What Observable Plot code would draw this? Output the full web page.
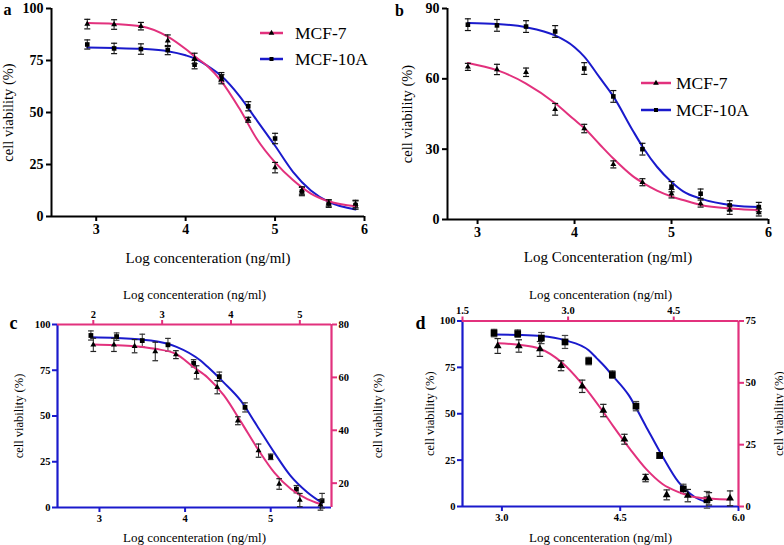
<!DOCTYPE html>
<html><head><meta charset="utf-8">
<script src="https://cdn.jsdelivr.net/npm/d3@7"></script>
<script src="https://cdn.jsdelivr.net/npm/@observablehq/plot@0.6"></script>
<style>
body{margin:0;background:#fff;}
#root{position:relative;width:784px;height:545px;overflow:hidden;font-family:"Liberation Serif",serif;background:#fff;}
.panel{position:absolute;}
.panel svg{position:absolute;left:0;top:0;overflow:visible;font-family:"Liberation Serif",serif !important;}
.panel svg text{font-family:"Liberation Serif",serif;}
</style></head><body><div id="root"></div>
<script>
// ---------- data ----------
const aConc = [2.9,3.2,3.5,3.8,4.1,4.4,4.7,5.0,5.3,5.6,5.9];
const aMCF7 = [92.5,92.3,91.5,84.5,76.0,66.0,46.5,23.5,12.5,6.5,6.0];
const aMCF7Err = [2.3,2.3,1.8,2.8,2.5,2.2,1.2,2.5,1.8,1.5,1.8];
const aMCF10A = [82.7,80.8,80.5,80.0,73.0,67.0,53.0,37.5,12.0,6.2,5.5];
const aMCF10AErr = [2.2,2.5,2.5,2.2,2.0,2.2,2.2,2.5,2.0,1.8,2.0];
const aFitConc = [2.9,3.2,3.5,3.8,4.0,4.1,4.24,4.4,4.6,4.8,5.0,5.2,5.4,5.6,5.9];
const aMCF7Fit = [93.0,92.6,91.5,86.5,80.5,77.0,72.5,65.0,52.0,37.0,26.0,17.5,11.0,7.3,4.9];
const aMCF10AFit = [81.2,81.0,80.6,79.5,77.5,76.0,72.5,67.5,58.0,46.0,34.0,21.5,12.5,7.0,3.4];
const aXTicks = [3,4,5,6];
const aYTicks = [0,25,50,75,100];

const bConc = [2.9,3.2,3.5,3.8,4.1,4.4,4.7,5.0,5.3,5.6,5.9];
const bMCF7 = [65.1,64.0,62.8,47.0,38.8,23.5,15.9,11.0,6.8,4.0,3.0];
const bMCF7Err = [1.5,2.2,1.8,2.5,1.8,1.5,1.5,1.8,1.5,1.8,1.5];
const bMCF10A = [83.1,82.8,82.3,80.2,64.4,52.5,30.0,14.0,11.0,6.0,5.3];
const bMCF10AErr = [2.5,2.5,2.5,2.5,2.5,2.5,2.5,2.2,2.0,2.0,2.0];
const bFitConc = [2.9,3.2,3.5,3.8,4.0,4.1,4.26,4.4,4.6,4.71,4.85,5.0,5.12,5.3,5.64,5.9];
const bMCF7Fit = [66.8,63.7,58.0,49.6,42.5,39.0,32.0,26.0,18.5,15.5,12.3,9.8,8.3,6.2,4.6,4.0];
const bMCF10AFit = [83.8,83.4,82.0,78.5,73.5,69.5,60.5,52.5,38.0,30.5,22.5,16.0,12.0,8.9,6.0,5.3];
const bXTicks = [3,4,5,6];
const bYTicks = [0,30,60,90];

const cConc10A = [2.9,3.2,3.5,3.8,4.1,4.4,4.7,5.0,5.3,5.6];
const cMCF10A = [94.0,93.4,91.2,88.9,78.8,71.5,54.7,27.7,10.0,3.7];
const cMCF10AErr = [2.5,2.0,3.5,3.5,2.0,2.5,2.5,1.5,2.0,4.0];
const cConc7 = [2.0,2.3,2.6,2.9,3.2,3.5,3.8,4.1,4.4,4.7,5.0,5.3];
const cMCF7 = [72.3,72.3,71.8,69.8,68.6,61.9,56.3,43.6,32.3,19.7,13.6,11.8];
const cMCF7Err = [2.5,2.5,2.5,3.5,1.5,2.5,2.5,1.5,2.5,2.0,2.5,2.0];
const cFit10AConc = [2.9,3.2,3.6,3.9,4.18,4.26,4.45,4.65,4.84,5.04,5.23,5.43,5.6];
const cMCF10AFit = [93.0,92.6,91.2,87.8,80.3,77.0,68.4,58.4,44.7,30.1,17.4,8.2,2.5];
const cFit7Conc = [2.0,2.3,2.6,2.9,3.2,3.45,3.66,3.9,4.15,4.39,4.63,4.87,5.11,5.3];
const cMCF7Fit = [72.4,72.2,71.8,70.8,68.9,64.0,60.0,53.1,43.0,32.9,24.0,17.8,14.0,12.1];
const cBottomTicks = [3,4,5];
const cLeftTicks = [0,25,50,75,100];
const cTopTicks = [2,3,4,5];
const cRightTicks = [20,40,60,80];

const dConc10A = [2.9,3.2,3.5,3.8,4.1,4.4,4.7,5.0,5.3,5.6];
const dMCF10A = [93.5,93.2,90.8,88.7,78.4,71.1,54.1,27.5,9.5,3.6];
const dMCF10AErr = [2.0,2.0,3.0,3.5,2.0,2.0,2.5,1.5,2.5,4.5];
const dConc7 = [2.0,2.3,2.6,2.9,3.2,3.5,3.8,4.1,4.4,4.7,5.0,5.3];
const dMCF7 = [64.9,64.9,63.7,56.9,48.6,38.8,27.2,11.5,4.7,4.4,3.1,3.3];
const dMCF7Err = [3.0,2.5,3.0,2.0,2.5,2.5,2.0,1.5,2.0,2.5,2.5,3.0];
const dFit10AConc = [2.9,3.2,3.5,3.8,4.1,4.2,4.31,4.4,4.61,4.82,5.03,5.24,5.45,5.6];
const dMCF10AFit = [92.7,92.5,91.9,89.6,84.2,80.0,75.2,70.7,59.9,43.7,27.5,13.1,5.0,2.3];
const dFit7Conc = [2.0,2.3,2.6,2.9,3.2,3.49,3.64,3.88,4.11,4.34,4.58,4.81,5.05,5.3];
const dMCF7Fit = [66.0,65.4,63.8,58.5,49.5,38.6,32.5,23.2,15.1,9.1,5.7,3.7,3.1,2.8];
const dBottomTicks = [3.0,4.5,6.0];
const dLeftTicks = [0,25,50,75,100];
const dTopTicks = [1.5,3.0,4.5];
const dRightTicks = [0,25,50,75];

const series = ["MCF-7","MCF-10A"];
const xTitle = "Log concenteration (ng/ml)";
const xTitleB = "Log Concenteration (ng/ml)";
const yTitle = "cell viability (%)";

// ---------- style ----------
const PINK = "#e2317d", BLUE = "#1a1acc", FONT = "Liberation Serif";
const cap = {draw(ctx, size){ const w = Math.sqrt(size)/2; ctx.moveTo(-w,0); ctx.lineTo(w,0); }};
const root = document.getElementById("root");

function panel(left, top, w, h){
  const d = document.createElement("div");
  d.className = "panel";
  Object.assign(d.style, {left:left+"px", top:top+"px", width:w+"px", height:h+"px"});
  root.appendChild(d);
  return d;
}

function seriesMarks({xs, ys, es, symbol, r, fx, fy, color, errColor="#111", capR=3.4}){
  const idx = d3.range(xs.length), fidx = d3.range(fx.length);
  return [
    Plot.line(fidx, {x:i=>fx[i], y:i=>fy[i], curve:"monotone-x", stroke:color, strokeWidth:2}),
    Plot.ruleX(idx, {x:i=>xs[i], y1:i=>ys[i]-es[i], y2:i=>ys[i]+es[i], stroke:errColor, strokeWidth:1}),
    Plot.dot(idx, {x:i=>xs[i], y:i=>ys[i]+es[i], symbol:cap, r:capR, stroke:errColor, fill:"none", strokeWidth:1.2}),
    Plot.dot(idx, {x:i=>xs[i], y:i=>ys[i]-es[i], symbol:cap, r:capR, stroke:errColor, fill:"none", strokeWidth:1.2}),
    Plot.dot(idx, {x:i=>xs[i], y:i=>ys[i], symbol, r, fill:"black", stroke:"none"})
  ];
}

const baseStyle = {fontFamily:"'Liberation Serif', serif", background:"transparent", overflow:"visible", color:"black"};
const T = {fontFamily:FONT, textAnchor:"middle", lineAnchor:"middle", text:d=>d};

function legend(parent, x1, x2, tx, ys){
  const svg = d3.select(parent).append("svg").attr("width",392).attr("height",268);
  const items = [{label:series[0], color:PINK, sym:d3.symbolTriangle, size:14},
                 {label:series[1], color:BLUE, sym:d3.symbolSquare, size:16}];
  items.forEach((it,k)=>{
    const y = ys[k];
    svg.append("line").attr("x1",x1).attr("x2",x2).attr("y1",y).attr("y2",y)
      .attr("stroke",it.color).attr("stroke-width",2.5);
    svg.append("path").attr("d", d3.symbol(it.sym, it.size)())
      .attr("transform",`translate(${(x1+x2)/2},${y})`).attr("fill","black");
    svg.append("text").attr("x",tx).attr("y",y).attr("dy","0.35em")
      .attr("font-family",FONT).attr("font-size",17.5).text(it.label);
  });
}

function simplePanel({el, xDomain, yDomain, xTicks, yTicks, margins, xT, letter, data7, data10, xTitleDy, yTitleDx, letterDx, letterDy}){
  const ax = {tickSize:5, tickPadding:3, fontSize:14, fontWeight:"bold", fontFamily:FONT, strokeWidth:2, label:null, tickFormat:d3.format("d")};
  const p = Plot.plot({
    width:392, height:268, ...margins,
    style:baseStyle,
    x:{domain:xDomain}, y:{domain:yDomain},
    marks:[
      Plot.axisX({ticks:xTicks, ...ax}),
      Plot.axisY({ticks:yTicks, ...ax}),
      Plot.ruleX([xDomain[0]], {strokeWidth:2}),
      Plot.ruleY([yDomain[0]], {strokeWidth:2}),
      ...seriesMarks(data10),
      ...seriesMarks(data7),
      Plot.text([xT], {...T, frameAnchor:"bottom", dy:xTitleDy, fontSize:15}),
      Plot.text([yTitle], {...T, frameAnchor:"left", dx:yTitleDx, rotate:-90, fontSize:14.5}),
      Plot.text([letter], {...T, frameAnchor:"top-left", dx:letterDx, dy:letterDy, fontSize:16, fontWeight:"bold"})
    ]
  });
  el.appendChild(p);
}

// ---------- panel a ----------
const pa = panel(0, 0, 392, 268);
simplePanel({el:pa, xDomain:[2.5,6], yDomain:[0,100], xTicks:aXTicks, yTicks:aYTicks,
  margins:{marginLeft:51, marginRight:28, marginTop:8, marginBottom:52}, xT:xTitle, letter:"a",
  data7:{xs:aConc, ys:aMCF7, es:aMCF7Err, symbol:"triangle", r:2.2, fx:aFitConc, fy:aMCF7Fit, color:PINK},
  data10:{xs:aConc, ys:aMCF10A, es:aMCF10AErr, symbol:"square", r:2.6, fx:aFitConc, fy:aMCF10AFit, color:BLUE},
  xTitleDy:42, yTitleDx:-43, letterDx:-44, letterDy:1.5});
legend(pa, 260, 283, 295, [33, 59]);

// ---------- panel b ----------
const pb = panel(392, 0, 392, 268);
simplePanel({el:pb, xDomain:[2.69,6], yDomain:[0,90], xTicks:bXTicks, yTicks:bYTicks,
  margins:{marginLeft:55, marginRight:16, marginTop:8, marginBottom:49}, xT:xTitleB, letter:"b",
  data7:{xs:bConc, ys:bMCF7, es:bMCF7Err, symbol:"triangle", r:2.2, fx:bFitConc, fy:bMCF7Fit, color:PINK},
  data10:{xs:bConc, ys:bMCF10A, es:bMCF10AErr, symbol:"square", r:2.6, fx:bFitConc, fy:bMCF10AFit, color:BLUE},
  xTitleDy:38, yTitleDx:-40, letterDx:-48, letterDy:2});
legend(pb, 249, 279, 284, [83, 110]);

// ---------- dual-axis panels ----------
function dualPanel({el, m, bx, ly, tx, ry, bTicks, lTicks, tTicks, rTicks, fmt, letter, d10, d7,
                    botDy, topDy, leftDx, rightDx, letterDx, letterDy}){
  const common = {width:392, height:275, ...m, style:baseStyle};
  const axB = {tickSize:5, tickPadding:2, fontSize:10.5, fontWeight:"bold", fontFamily:FONT, strokeWidth:2, label:null, fill:"black"};
  const base = Plot.plot({...common,
    x:{domain:bx}, y:{domain:ly},
    marks:[
      Plot.axisX({anchor:"bottom", ticks:bTicks, tickFormat:fmt, stroke:BLUE, ...axB}),
      Plot.axisY({anchor:"left", ticks:lTicks, tickFormat:d3.format("d"), stroke:BLUE, ...axB}),
      Plot.ruleX([bx[0]], {stroke:BLUE, strokeWidth:2.2}),
      Plot.ruleY([ly[0]], {stroke:BLUE, strokeWidth:2.2}),
      ...seriesMarks(d10),
      Plot.text([xTitle], {...T, frameAnchor:"bottom", dy:botDy, fontSize:13}),
      Plot.text([yTitle], {...T, frameAnchor:"left", dx:leftDx, rotate:-90, fontSize:12.5}),
      Plot.text([letter], {...T, frameAnchor:"top-left", dx:letterDx, dy:letterDy, fontSize:18, fontWeight:"bold"})
    ]});
  const over = Plot.plot({...common,
    x:{domain:tx}, y:{domain:ry},
    marks:[
      Plot.axisX({anchor:"top", ticks:tTicks, tickFormat:fmt, stroke:PINK, ...axB}),
      Plot.axisY({anchor:"right", ticks:rTicks, tickFormat:d3.format("d"), stroke:PINK, ...axB}),
      Plot.ruleX([tx[1]], {stroke:PINK, strokeWidth:2.2}),
      Plot.ruleY([ry[1]], {stroke:PINK, strokeWidth:2.2}),
      ...seriesMarks(d7),
      Plot.text([xTitle], {...T, frameAnchor:"top", dy:topDy, fontSize:13}),
      Plot.text([yTitle], {...T, frameAnchor:"right", dx:rightDx, rotate:-90, fontSize:12.5})
    ]});
  el.appendChild(base);
  el.appendChild(over);
}

const pc = panel(0, 270, 392, 275);
dualPanel({el:pc, m:{marginLeft:57, marginRight:61, marginTop:54, marginBottom:38},
  bx:[2.51,5.71], ly:[0,100], tx:[1.48,5.46], ry:[10.8,80],
  bTicks:cBottomTicks, lTicks:cLeftTicks, tTicks:cTopTicks, rTicks:cRightTicks, fmt:d3.format("d"), letter:"c",
  d10:{xs:cConc10A, ys:cMCF10A, es:cMCF10AErr, symbol:"square", r:2.7, fx:cFit10AConc, fy:cMCF10AFit, color:BLUE, errColor:"#333", capR:3.2},
  d7:{xs:cConc7, ys:cMCF7, es:cMCF7Err, symbol:"triangle", r:2.2, fx:cFit7Conc, fy:cMCF7Fit, color:PINK, errColor:"#222", capR:3.2},
  botDy:30, topDy:-30, leftDx:-39, rightDx:46, letterDx:-44, letterDy:-1});

const pd = panel(392, 270, 392, 275);
dualPanel({el:pd, m:{marginLeft:70, marginRight:46, marginTop:50.5, marginBottom:39},
  bx:[2.5,6], ly:[0,100], tx:[1.5,5.42], ry:[0,75],
  bTicks:dBottomTicks, lTicks:dLeftTicks, tTicks:dTopTicks, rTicks:dRightTicks, fmt:d3.format(".1f"), letter:"d",
  d10:{xs:dConc10A, ys:dMCF10A, es:dMCF10AErr, symbol:"square", r:3.8, fx:dFit10AConc, fy:dMCF10AFit, color:BLUE, errColor:"#444", capR:3.6},
  d7:{xs:dConc7, ys:dMCF7, es:dMCF7Err, symbol:"triangle", r:2.9, fx:dFit7Conc, fy:dMCF7Fit, color:PINK, errColor:"#222", capR:3.6},
  botDy:31, topDy:-26.5, leftDx:-33, rightDx:40, letterDx:-42, letterDy:2.5});
</script>
</body></html>
